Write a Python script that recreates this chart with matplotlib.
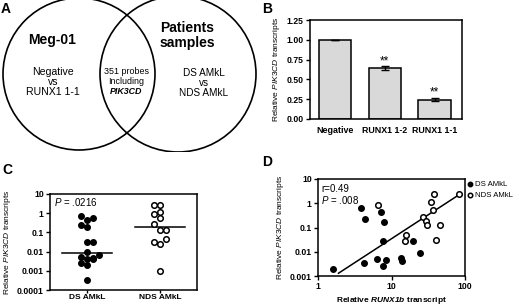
import numpy as np
import matplotlib
matplotlib.use('Agg')
import matplotlib.pyplot as plt
from matplotlib.patches import Circle

plt.rcParams['font.family'] = ['Liberation Sans', 'DejaVu Sans']
plt.rcParams['mathtext.fontset'] = 'custom'
plt.rcParams['mathtext.rm'] = 'Liberation Sans'
plt.rcParams['mathtext.it'] = 'Liberation Sans:italic'
plt.rcParams['mathtext.bf'] = 'Liberation Sans:bold'
plt.rcParams['mathtext.bfit'] = 'Liberation Sans:italic:bold'

# --- data ---
# B: relative PIK3CD transcripts after knockdown
b_labels = ['Negative', 'RUNX1 1-2', 'RUNX1 1-1']
b_values = [1.00, 0.645, 0.245]
b_errors = [0.0, 0.02, 0.02]
b_marks = ['', '**', '**']

# C: PIK3CD per patient group
c_groups = ['DS AMkL', 'NDS AMkL']
c_ds = [0.72, 0.43, 0.55, 0.24, 0.19, 0.031, 0.031, 0.0091, 0.0069,
        0.0055, 0.0042, 0.0047, 0.0039, 0.0026, 0.0020, 0.00032]
c_nds = [2.7, 2.6, 0.9, 1.2, 0.56, 0.27, 0.13, 0.13, 0.048, 0.031, 0.025, 0.001]
c_pvalue = '.0216'

# D: PIK3CD vs RUNX1b
d_ds_x = [1.6, 3.9, 4.4, 4.2, 7.2, 7.9, 7.6, 6.4, 8.4, 7.6, 13.3, 14.0, 19.6, 24.4]
d_ds_y = [0.0019, 0.66, 0.23, 0.0035, 0.43, 0.17, 0.028, 0.0049, 0.0045,
          0.0025, 0.0055, 0.0041, 0.028, 0.0088]
d_nds_x = [6.6, 15.7, 15.1, 27, 29.4, 30, 34.9, 37.8, 36.7, 46, 40, 84]
d_nds_y = [0.83, 0.048, 0.027, 0.26, 0.19, 0.13, 1.15, 2.4, 0.52, 0.126, 0.03, 2.3]
d_fit_x = [1.9, 84]
d_fit_y = [0.0013, 2.3]
d_r = '0.49'
d_pvalue = '.008'

# jitter columns for panel C (layout only)
c_ds_col = [-1, 0, 1, -1, 0, 0, 1, 0, 2, -1, 0, 1, 1, -1, 0, 0]
c_nds_col = [-1, 0, -1, 0, 0, -1, 0, 1, 1, -1, 0, 0]

W, H = 520, 305
fig = plt.figure(figsize=(W / 100, H / 100), dpi=100)

TICK_FS = 6.2
LAB_FS = 6.0
CAT_FS = 6.4


def px_axes(left, top, right, bottom):
    return fig.add_axes([left / W, 1 - bottom / H, (right - left) / W, (bottom - top) / H])


def style_axes(ax):
    for s in ['top', 'right', 'left', 'bottom']:
        ax.spines[s].set_linewidth(1.1)
    ax.tick_params(width=1.0, length=3, labelsize=TICK_FS, pad=1.5)
    for lab in ax.get_xticklabels() + ax.get_yticklabels():
        lab.set_fontweight('bold')


# --- panel A: Venn ---
axA = px_axes(0, 0, 260, 152)
axA.set_xlim(0, 260)
axA.set_ylim(152, 0)
axA.axis('off')
axA.add_patch(Circle((79, 74), 76, fill=False, lw=1.2, ec='black'))
axA.add_patch(Circle((178, 74), 78, fill=False, lw=1.2, ec='black'))
axA.text(52, 40, 'Meg-01', ha='center', va='center', fontsize=10, fontweight='bold')
for yy, t in zip([72, 82, 92], ['Negative', 'vs', 'RUNX1 1-1']):
    axA.text(53, yy, t, ha='center', va='center', fontsize=7.6)
axA.text(187, 28, 'Patients', ha='center', va='center', fontsize=10, fontweight='bold')
axA.text(187, 43, 'samples', ha='center', va='center', fontsize=10, fontweight='bold')
for yy, t in zip([73, 83, 93], ['DS AMkL', 'vs', 'NDS AMkL']):
    axA.text(204, yy, t, ha='center', va='center', fontsize=7.2)
axA.text(126, 72, '351 probes', ha='center', va='center', fontsize=6.4)
axA.text(126, 82, 'Including', ha='center', va='center', fontsize=6.4)
axA.text(126, 92, 'PIK3CD', ha='center', va='center', fontsize=6.4,
         fontweight='bold', style='italic')
fig.text(1 / W, 1 - 9 / H, 'A', fontsize=10, fontweight='bold', va='center')

# --- panel B: bars ---
axB = px_axes(310, 20, 462, 119)
xb = np.arange(len(b_labels))
axB.bar(xb, b_values, width=0.65, color='#d9d9d9', edgecolor='black', linewidth=1.1,
        yerr=b_errors, error_kw=dict(elinewidth=1.0, capsize=3, capthick=1.0))
for x, v, e, m in zip(xb, b_values, b_errors, b_marks):
    if m:
        axB.text(x, v + e - 0.01, m, ha='center', va='bottom', fontsize=8.5)
axB.set_xlim(-0.5, 2.55)
axB.set_ylim(0, 1.25)
axB.set_yticks([0, 0.25, 0.5, 0.75, 1.0, 1.25])
axB.set_yticklabels(['0.00', '0.25', '0.50', '0.75', '1.00', '1.25'])
axB.set_xticks(xb)
axB.set_xticklabels(b_labels)
axB.set_ylabel(r'Relative $PIK3CD$ transcripts', fontsize=LAB_FS, labelpad=3)
style_axes(axB)
axB.tick_params(axis='x', length=0, labelsize=CAT_FS, pad=5)
fig.text(262 / W, 1 - 9 / H, 'B', fontsize=10, fontweight='bold', va='center')

# --- panel C: dot plot ---
axC = px_axes(50, 194, 197, 290)
off = 0.08
axC.scatter(0 + off * np.array(c_ds_col), c_ds, s=16, color='black', zorder=3)
axC.scatter(1 + off * np.array(c_nds_col), c_nds, s=16, facecolor='white',
            edgecolor='black', linewidth=1.1, zorder=3)
axC.plot([-0.33, 0.34], [np.median(c_ds)] * 2, color='black', lw=1.1)
axC.plot([0.66, 1.33], [np.median(c_nds)] * 2, color='black', lw=1.1)
axC.set_yscale('log')
axC.set_ylim(1e-4, 10)
axC.set_xlim(-0.5, 1.5)
axC.set_yticks([1e-4, 1e-3, 1e-2, 0.1, 1, 10])
axC.set_yticklabels(['0.0001', '0.001', '0.01', '0.1', '1', '10'])
axC.yaxis.set_minor_locator(matplotlib.ticker.NullLocator())
axC.set_xticks([0, 1])
axC.set_xticklabels(c_groups)
axC.set_ylabel(r'Relative $PIK3CD$ transcripts', fontsize=LAB_FS, labelpad=3)
style_axes(axC)
axC.tick_params(axis='x', labelsize=6.0, pad=0.5, length=2.5)
axC.text(0.03, 0.92, r'$P$ = ' + c_pvalue, transform=axC.transAxes, fontsize=7, va='center')
fig.text(2 / W, 1 - 170 / H, 'C', fontsize=10, fontweight='bold', va='center')

# --- panel D: scatter ---
axD = px_axes(318, 179, 465, 276)
axD.scatter(d_ds_x, d_ds_y, s=16, color='black', zorder=3, label='DS AMkL')
axD.scatter(d_nds_x, d_nds_y, s=16, facecolor='white', edgecolor='black',
            linewidth=1.1, zorder=3, label='NDS AMkL')
axD.plot(d_fit_x, d_fit_y, color='black', lw=1.1)
axD.set_xscale('log')
axD.set_yscale('log')
axD.set_xlim(1, 100)
axD.set_ylim(1e-3, 10)
axD.set_xticks([1, 10, 100])
axD.set_xticklabels(['1', '10', '100'])
axD.set_yticks([1e-3, 1e-2, 0.1, 1, 10])
axD.set_yticklabels(['0.001', '0.01', '0.1', '1', '10'])
axD.xaxis.set_minor_locator(matplotlib.ticker.NullLocator())
axD.yaxis.set_minor_locator(matplotlib.ticker.NullLocator())
axD.set_ylabel(r'Relative $PIK3CD$ transcripts', fontsize=LAB_FS, labelpad=3)
axD.set_xlabel(r'Relative $\mathbfit{RUNX1b}$ transcript', fontsize=6.0,
               fontweight='bold', labelpad=3)
style_axes(axD)
axD.tick_params(axis='x', pad=1)
axD.text(0.02, 0.9, 'r=' + d_r, transform=axD.transAxes, fontsize=7, va='center')
axD.text(0.02, 0.78, r'$P$ = ' + d_pvalue, transform=axD.transAxes, fontsize=7, va='center')
axD.legend(loc='upper left', bbox_to_anchor=(1.0, 1.0), frameon=False, fontsize=5.6,
           handletextpad=0.2, borderaxespad=0.0, borderpad=0.2, labelspacing=0.5,
           handlelength=0.9, markerscale=0.8)
fig.text(262 / W, 1 - 162 / H, 'D', fontsize=10, fontweight='bold', va='center')

fig.savefig('out.png', dpi=100)
